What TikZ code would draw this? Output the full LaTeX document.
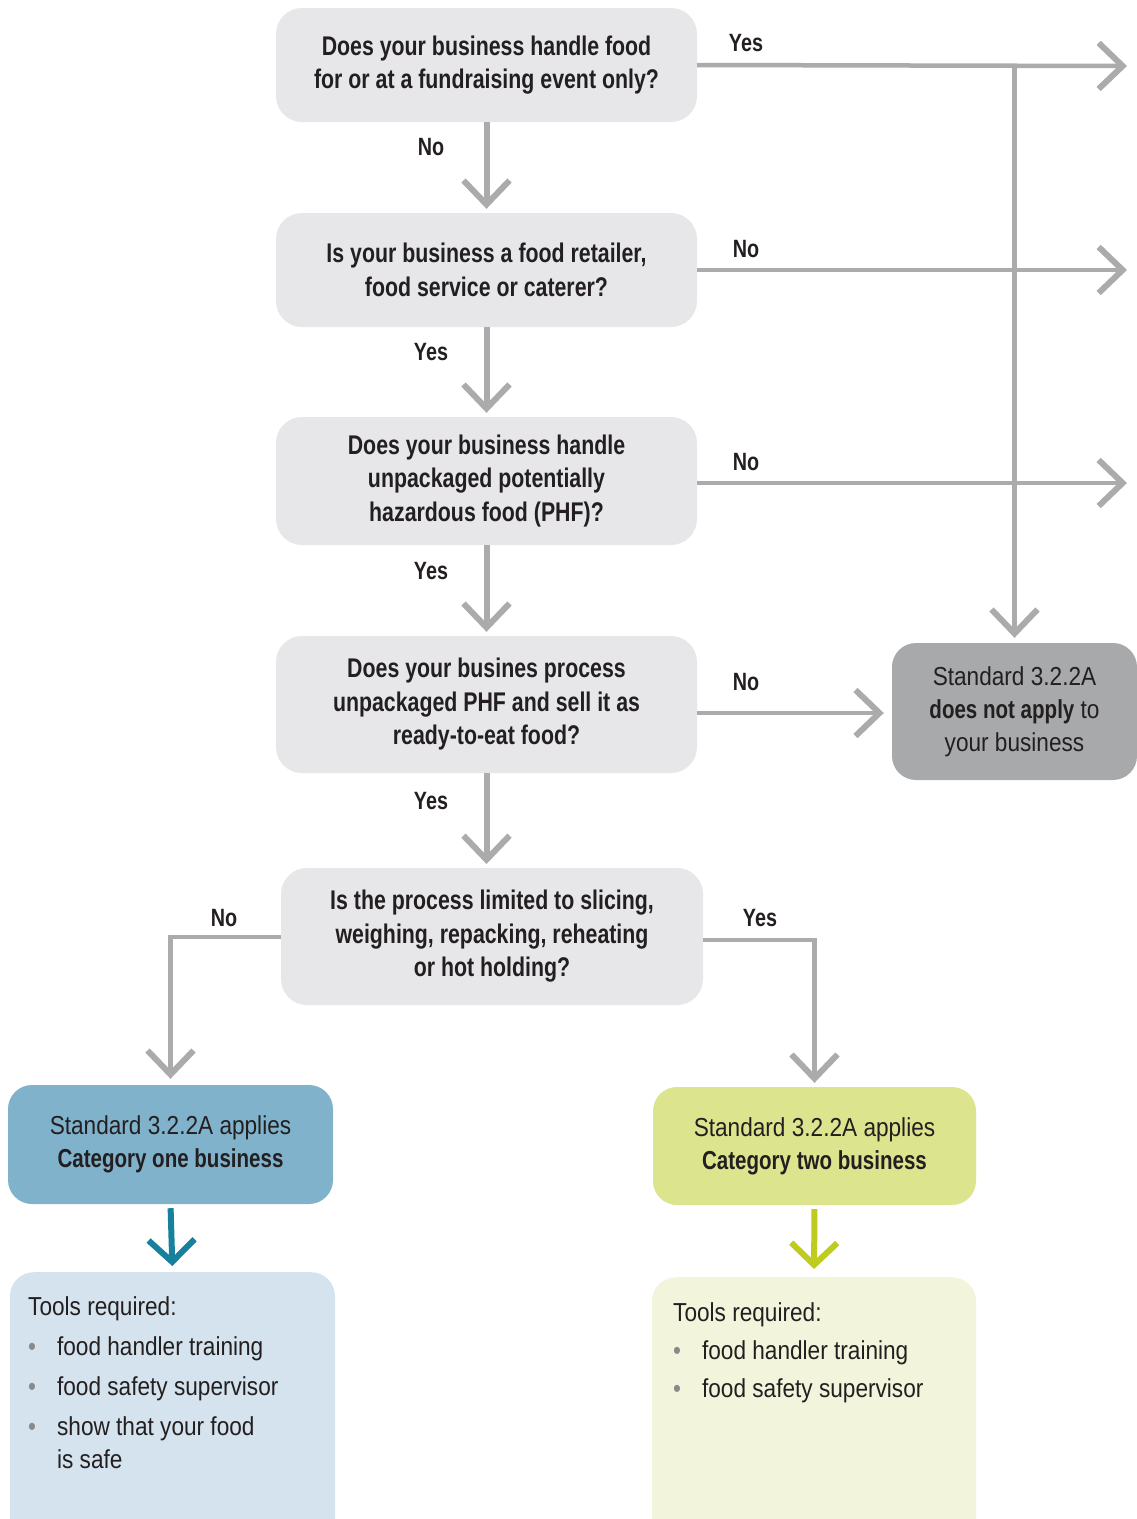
\documentclass[tikz,border=0pt]{standalone}
\usepackage{fontspec}
\setmainfont{Liberation Sans}[FakeStretch=0.87, BoldFeatures={FakeStretch=0.79}]
\usetikzlibrary{arrows.meta}
\definecolor{qfill}{HTML}{E7E7E9}
\definecolor{arrgrey}{HTML}{ABABAB}
\definecolor{nafill}{HTML}{A8A9AB}
\definecolor{c1fill}{HTML}{80B2CB}
\definecolor{t1fill}{HTML}{D4E3ED}
\definecolor{c2fill}{HTML}{DCE48E}
\definecolor{t2fill}{HTML}{F2F5DC}
\definecolor{tealarr}{HTML}{17809C}
\definecolor{greenarr}{HTML}{BFCC1E}
\definecolor{txt}{HTML}{231F20}
\definecolor{bul}{HTML}{8A8A8A}
\tikzset{
  x=1pt, y=-1pt,
  every node/.style={text=txt},
  qbox/.style={fill=qfill, rounded corners=26pt, minimum width=421pt, align=center,
    font=\fontsize{27}{33.5}\selectfont\bfseries, inner sep=0pt},
  rbox/.style={rounded corners=24pt, align=center, inner sep=0pt,
    font=\fontsize{26}{33}\selectfont},
  lbl/.style={font=\fontsize{25}{30}\selectfont\bfseries},
  garrow/.style={draw=arrgrey, line width=6pt, -{Straight Barb[length=24pt, width=46pt]}},
  garrowthin/.style={draw=arrgrey, line width=4.5pt, -{Straight Barb[length=24pt, width=46pt, line width=6pt]}},
}
\begin{document}
\begin{tikzpicture}
\clip (0,0) rectangle (1137,1519);
\fill[white] (0,0) rectangle (1137,1519);

% question nodes
\node[qbox, minimum height=114pt] (q1) at (486.5,65) {Does your business handle food\\for or at a fundraising event only?};
\node[qbox, minimum height=114pt] (q2) at (486.5,270) {Is your business a food retailer,\\food service or caterer?};
\node[qbox, minimum height=128pt] (q3) at (486.5,481) {Does your business handle\\unpackaged potentially\\hazardous food (PHF)?};
\node[qbox, minimum height=137pt] (q4) at (486.5,704.5) {Does your busines process\\unpackaged PHF and sell it as\\ready-to-eat food?};
\node[qbox, minimum height=137pt, minimum width=422pt] (q5) at (492,936.5) {Is the process limited to slicing,\\weighing, repacking, reheating\\or hot holding?};

% result nodes
\node[rbox, fill=nafill, minimum width=245pt, minimum height=137pt] (na) at (1014.5,711.5) {\raisebox{-5pt}{Standard 3.2.2A}\\\raisebox{-5pt}{\textbf{does not apply} to}\\\raisebox{-5pt}{your business}};
\node[rbox, fill=c1fill, minimum width=325pt, minimum height=119pt] (c1) at (170.5,1144.5) {Standard 3.2.2A applies\\\textbf{Category one business}};
\node[rbox, fill=c2fill, minimum width=323pt, minimum height=118pt] (c2) at (814.5,1146) {Standard 3.2.2A applies\\\textbf{Category two business}};
\node[rbox, fill=t1fill, minimum width=325pt, minimum height=273pt, anchor=north] (t1) at (172.5,1272) {};
\node[rbox, fill=t2fill, minimum width=324pt, minimum height=268pt, anchor=north] (t2) at (814,1277) {};

% tools texts
\node[anchor=north west, inner sep=0pt, font=\fontsize{26}{33}\selectfont] (t1txt) at (28,1292) {%
\begin{tabular}{@{}l@{\hspace{21pt}}l@{}}
\multicolumn{2}{@{}l}{Tools required:}\\[7pt]
\textcolor{bul}{\textbullet} & food handler training\\[7pt]
\textcolor{bul}{\textbullet} & food safety supervisor\\[7pt]
\textcolor{bul}{\textbullet} & show that your food\\
 & is safe
\end{tabular}};
\node[anchor=north west, inner sep=0pt, font=\fontsize{26}{33}\selectfont] (t2txt) at (673,1298) {%
\begin{tabular}{@{}l@{\hspace{21pt}}l@{}}
\multicolumn{2}{@{}l}{Tools required:}\\[5pt]
\textcolor{bul}{\textbullet} & food handler training\\[5pt]
\textcolor{bul}{\textbullet} & food safety supervisor
\end{tabular}};

% free ends on the right
\coordinate (e1) at (1127,66);
\coordinate (e2) at (1127,270);
\coordinate (e3) at (1127,483);

% main vertical connectors
\draw[garrow, shorten >=4pt] (q1.south) -- (q2.north);
\draw[garrow, shorten >=4pt] (q2.south) -- (q3.north);
\draw[garrow, shorten >=4pt] (q3.south) -- (q4.north);
\draw[garrow, shorten >=4pt] (q4.south) -- (486.5,868);

% right side exits
\draw[garrowthin] (q1.east) -- (e1);
\draw[garrowthin] (q2.east) -- (e2);
\draw[garrowthin] (q3.east |- e3) -- (e3);
\draw[garrowthin, shorten >=5pt] (na.north |- q1.east) -- (na.north);
\draw[garrowthin, shorten >=8pt] (q4.east |- 0,713) -- (na.west |- 0,713);

% q5 branches
\draw[garrowthin, shorten >=6pt] (q5.west |- 0,937) -| (c1.north);
\draw[garrowthin, shorten >=4pt] (q5.east |- 0,940) -| (c2.north);

% to tools
\draw[draw=tealarr, line width=6pt, -{Straight Barb[length=22pt, width=46pt]}, shorten <=4pt, shorten >=6pt] (c1.south) -- (t1.north);
\draw[draw=greenarr, line width=6pt, -{Straight Barb[length=22pt, width=46pt]}, shorten <=4pt, shorten >=8pt] (c2.south) -- (t2.north);

% labels
\node[lbl] (l1) at (431,147) {No};
\node[lbl] (l2) at (431,352) {Yes};
\node[lbl] (l3) at (431,571) {Yes};
\node[lbl] (l4) at (431,801) {Yes};
\node[lbl] (r1) at (746,43) {Yes};
\node[lbl] (r2) at (746,249) {No};
\node[lbl] (r3) at (746,462) {No};
\node[lbl] (r4) at (746,682) {No};
\node[lbl] (r5) at (224,918) {No};
\node[lbl] (r6) at (760,918) {Yes};
\end{tikzpicture}
\end{document}
